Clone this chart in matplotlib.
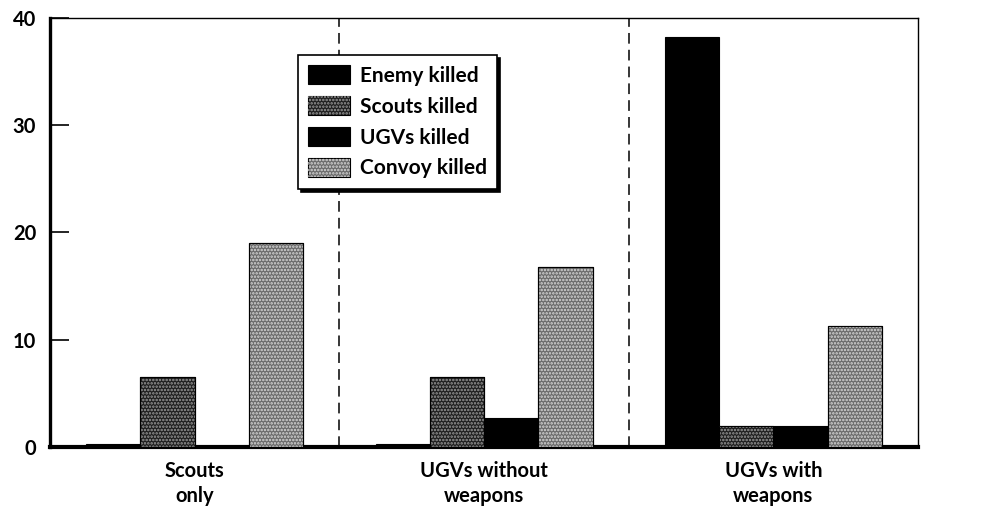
import matplotlib
matplotlib.use("Agg")
import matplotlib.pyplot as plt
from matplotlib.patches import Patch
from matplotlib.legend_handler import HandlerTuple
import numpy as np

plt.rcParams['font.family'] = ['Lato', 'DejaVu Sans']
plt.rcParams['hatch.linewidth'] = 1.2

groups = ["Scouts\nonly", "UGVs without\nweapons", "UGVs with\nweapons"]
series_names = ["Enemy killed", "Scouts killed", "UGVs killed", "Convoy killed"]
enemy_killed = [0.3, 0.3, 38.2]
scouts_killed = [6.5, 6.5, 2.0]
ugvs_killed = [0.0, 2.7, 2.0]
convoy_killed = [19.0, 16.8, 11.3]
yticks = [0, 10, 20, 30, 40]

series = [enemy_killed, scouts_killed, ugvs_killed, convoy_killed]
# (face colour, hatch, hatch colour) for each series
styles = [
    ("#000000", None, None),
    ("#1e1e1e", ".....", "#9a9a9a"),
    ("#000000", None, None),
    ("#6a6a6a", ".....", "#d8d8d8"),
]

fig = plt.figure(figsize=(9.93, 5.29), dpi=100)
ax = fig.add_axes([50 / 993, 1 - 447 / 529, 868 / 993, 429 / 529])

x = np.arange(len(groups))
width = 0.1875
handles = []
for i, (vals, (fc, hatch, hc)) in enumerate(zip(series, styles)):
    pos = x + (i - 1.5) * width
    ax.bar(pos, vals, width, color=fc, edgecolor="black", linewidth=0.8, zorder=3)
    base = Patch(facecolor=fc, edgecolor="black", linewidth=0.8)
    if hatch:
        ax.bar(pos, vals, width, facecolor="none", edgecolor=hc, hatch=hatch,
               linewidth=0, zorder=4)
        ax.bar(pos, vals, width, facecolor="none", edgecolor="black",
               linewidth=0.8, zorder=5)
        over = Patch(facecolor="none", edgecolor=hc, hatch=hatch, linewidth=0)
        handles.append((base, over))
    else:
        handles.append((base,))

for sep in (0.5, 1.5):
    ax.axvline(sep, color="black", linewidth=1.1, linestyle=(0, (7, 4)), zorder=1)

ax.set_xlim(-0.5, 2.5)
ax.set_ylim(0, 40)
ax.set_yticks(yticks)
ax.set_xticks(x)
ax.set_xticklabels(groups, fontsize=14.5, fontweight="bold", linespacing=1.35)
ax.tick_params(axis="x", length=0, pad=10)
ax.tick_params(axis="y", direction="in", length=14, width=1.2, pad=10,
               labelsize=14.5)
for lab in ax.get_yticklabels():
    lab.set_fontweight("bold")

ax.spines["left"].set_linewidth(2.4)
ax.spines["bottom"].set_linewidth(3.0)
ax.spines["top"].set_linewidth(1.0)
ax.spines["right"].set_linewidth(1.0)

leg = ax.legend(handles, series_names, handler_map={tuple: HandlerTuple(ndivide=1, pad=0)},
                loc="upper left", bbox_to_anchor=(0.2857, 0.914), borderaxespad=0,
                fancybox=False, frameon=True, edgecolor="black", framealpha=1,
                shadow={"color": "black", "alpha": 1},
                prop={"size": 15, "weight": "bold"},
                handlelength=2.0, handleheight=1.0, labelspacing=0.5,
                handletextpad=0.48, borderpad=0.5)
leg.get_frame().set_linewidth(1.2)
leg.set_zorder(10)

fig.savefig("out.png", dpi=100)
